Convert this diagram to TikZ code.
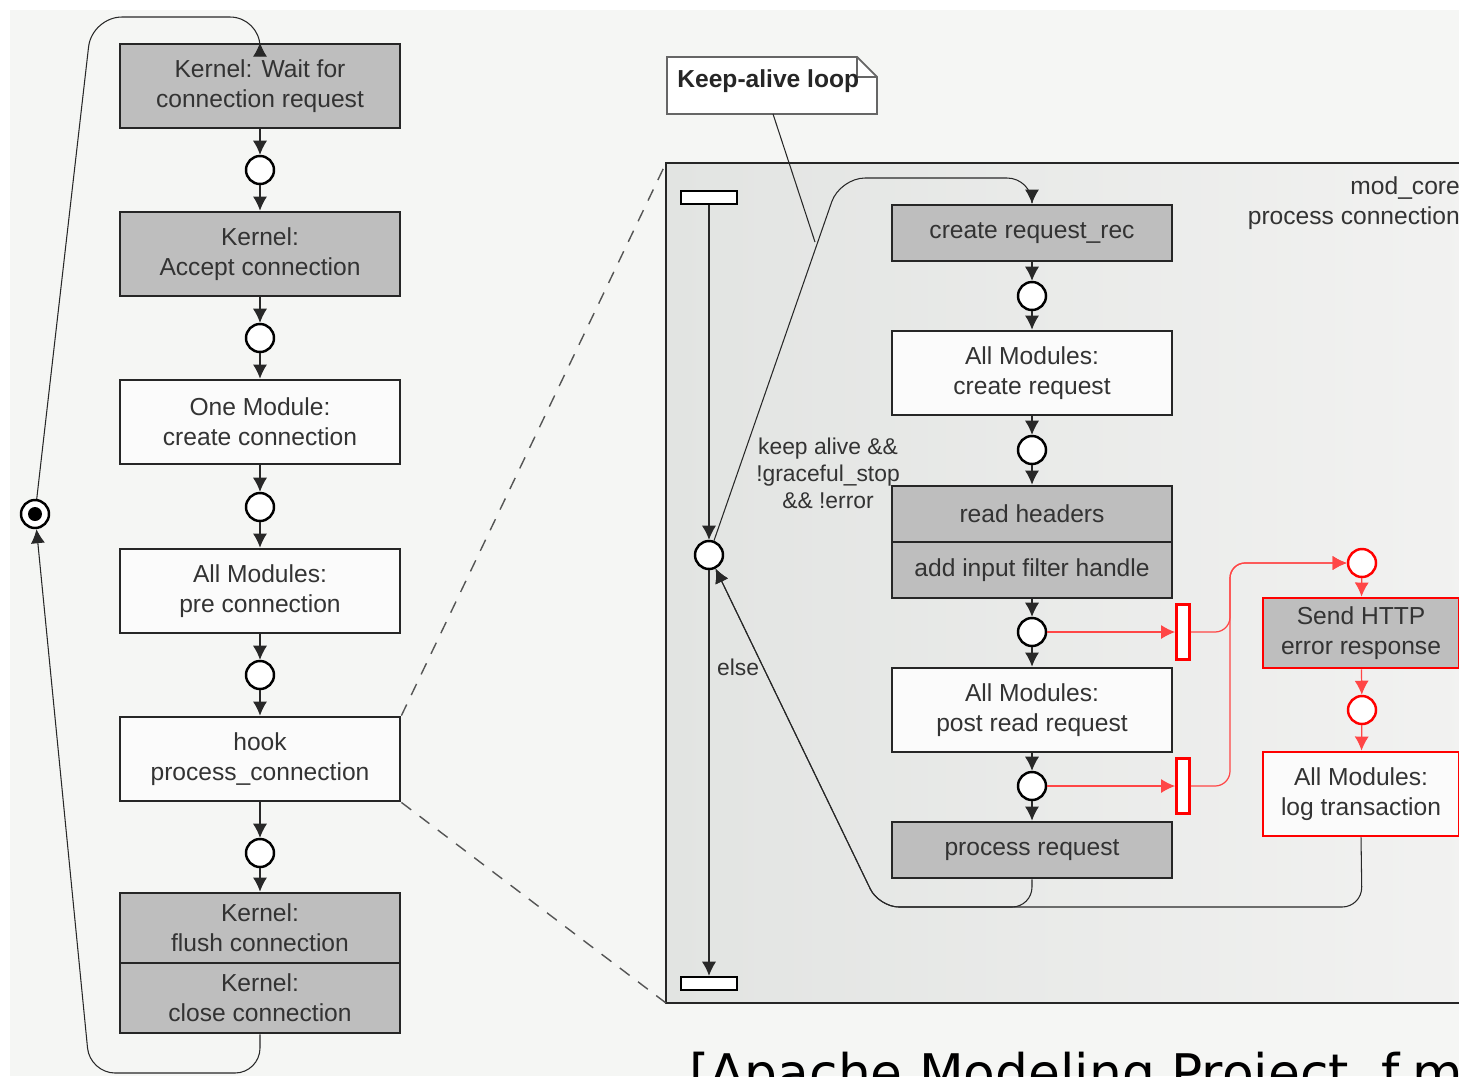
\documentclass[tikz,border=0pt]{standalone}
\usepackage{fontspec}
\setmainfont{Liberation Sans}
\newfontfamily\citefont{DejaVu Sans}
\usetikzlibrary{arrows.meta, calc}
\definecolor{pagebg}{RGB}{245,246,244}
\definecolor{panelleft}{RGB}{226,228,226}
\definecolor{panelright}{RGB}{242,242,241}
\definecolor{boxgray}{RGB}{190,190,190}
\definecolor{boxwhite}{RGB}{251,251,251}
\definecolor{linegray}{RGB}{40,40,40}
\definecolor{errred}{RGB}{255,0,0}
\definecolor{errline}{RGB}{255,70,70}
\definecolor{dashgray}{RGB}{85,85,85}

\begin{document}
\begin{tikzpicture}[x=0.02cm, y=-0.02cm,
  every node/.style={font=\fontsize{14pt}{17pt}\selectfont, text=black!80},
  activity/.style={rectangle, draw=black!85, line width=1.6pt, minimum width=5.6cm, minimum height=1.68cm, align=center, inner sep=0pt},
  graybox/.style={activity, fill=boxgray},
  whitebox/.style={activity, fill=boxwhite},
  state/.style={circle, draw=black, line width=1.4pt, fill=white, minimum size=0.56cm, inner sep=0pt},
  errstate/.style={state, draw=errred},
  initstate/.style={state, path picture={\fill[black] (path picture bounding box.center) circle (0.14cm);}},
  syncbar/.style={rectangle, draw=black, line width=1.4pt, fill=white, minimum width=1.12cm, minimum height=0.26cm, inner sep=0pt},
  errbar/.style={rectangle, draw=errred, line width=1.6pt, fill=white, minimum width=0.26cm, minimum height=1.1cm, inner sep=0pt},
  flow/.style={-{Latex[length=8pt,width=8pt]}, line width=0.6pt, draw=linegray},
  errflow/.style={-{Latex[length=8pt,width=8pt]}, line width=0.7pt, draw=errline},
  zoomline/.style={draw=dashgray, line width=0.8pt, dash pattern=on 7pt off 6pt},
  guard/.style={font=\fontsize{13pt}{15.4pt}\selectfont, align=center}
]
  \useasboundingbox (0,0) rectangle (1459,1076);
  \clip (0,0) rectangle (1459,1076);
  \fill[white] (0,0) rectangle (1459,1076);
  \fill[pagebg] (10,10) rectangle (1459,1076);

  % mod_core panel
  \coordinate (paneltl) at (666,163);
  \coordinate (panelbl) at (666,1003);
  \shade[left color=panelleft, right color=panelright] (paneltl) rectangle (1480,1003);
  \draw[line width=1.4pt, black!85] (paneltl) rectangle (1480,1003);
  \node[align=right, anchor=east] (modcore) at (1466,203) {mod\_core\\process connection};

  % left column: connection handling
  \node[graybox] (wait) at (260,86) {Kernel: Wait for\\connection request};
  \node[state] (s1) at (260,170) {};
  \node[graybox] (accept) at (260,254) {Kernel:\\Accept connection};
  \node[state] (s2) at (260,338) {};
  \node[whitebox] (newconn) at (260,422) {One Module:\\create connection};
  \node[state] (s3) at (260,507) {};
  \node[whitebox] (preconn) at (260,591) {All Modules:\\pre connection};
  \node[state] (s4) at (260,675) {};
  \node[whitebox] (hook) at (260,759) {hook\\process\_connection};
  \node[state] (s5) at (260,853) {};
  \node[graybox, minimum height=1.4cm] (flush) at (260,928) {Kernel:\\flush connection};
  \node[graybox, minimum height=1.4cm] (close) at (260,998) {Kernel:\\close connection};
  \node[initstate] (init) at (35,514) {};

  \draw[flow] (wait) -- (s1);
  \draw[flow] (s1) -- (accept);
  \draw[flow] (accept) -- (s2);
  \draw[flow] (s2) -- (newconn);
  \draw[flow] (newconn) -- (s3);
  \draw[flow] (s3) -- (preconn);
  \draw[flow] (preconn) -- (s4);
  \draw[flow] (s4) -- (hook);
  \draw[flow] (hook) -- (s5);
  \draw[flow] (s5) -- (flush);
  \draw[flow, rounded corners=0.5cm] (close.south) -- (260,1073) -- (90,1073) -- (init);
  \draw[flow, rounded corners=0.6cm] (init) -- (92,17) -- (260,17) [rounded corners=0.24cm] -- (wait.north);

  \draw[zoomline] (hook.north east) -- (paneltl);
  \draw[zoomline] (hook.south east) -- (panelbl);

  % keep-alive loop
  \node[syncbar] (forkbar) at (709,197.5) {};
  \node[syncbar] (joinbar) at (709,983.5) {};
  \node[state] (dec) at (709,555) {};

  \node[graybox, minimum height=1.12cm] (createrec) at (1032,233) {create request\_rec};
  \node[state] (s6) at (1032,296) {};
  \node[whitebox] (newreq) at (1032,373) {All Modules:\\create request};
  \node[state] (s7) at (1032,450) {};
  \node[graybox, minimum height=1.12cm] (readhdr) at (1032,514) {read headers};
  \node[graybox, minimum height=1.12cm] (addfilter) at (1032,570) {add input filter handle};
  \node[state] (s8) at (1032,632) {};
  \node[whitebox] (postread) at (1032,710) {All Modules:\\post read request};
  \node[state] (s9) at (1032,786) {};
  \node[graybox, minimum height=1.12cm] (procreq) at (1032,850) {process request};

  \node[errbar] (errbar1) at (1183,632) {};
  \node[errbar] (errbar2) at (1183,786) {};
  \node[errstate] (errc1) at (1362,563) {};
  \node[graybox, draw=errred, minimum width=3.92cm, minimum height=1.4cm] (sendhttp) at (1361,633) {Send HTTP\\error response};
  \node[errstate] (errc2) at (1362,710) {};
  \node[whitebox, draw=errred, minimum width=3.92cm] (logtx) at (1361,794) {All Modules:\\log transaction};

  \draw[flow] (forkbar) -- (dec);
  \draw[flow] (dec) -- (joinbar) node[pos=0.24, right=1pt, guard] {else};
  \draw[flow, rounded corners=0.5cm] (dec) -- (840,178) -- (1032,178) [rounded corners=0.24cm] -- (createrec.north);
  \node[guard] (alive) at (828,473) {keep alive \&\&\\!graceful\_stop\\\&\& !error};

  \draw[flow] (createrec) -- (s6);
  \draw[flow] (s6) -- (newreq);
  \draw[flow] (newreq) -- (s7);
  \draw[flow] (s7) -- (readhdr);
  \draw[flow] (addfilter) -- (s8);
  \draw[flow] (s8) -- (postread);
  \draw[flow] (postread) -- (s9);
  \draw[flow] (s9) -- (procreq);
  \draw[flow, rounded corners=0.4cm] (procreq.south) -- (1032,907) -- (879,907) -- (dec);
  \draw[flow, rounded corners=0.4cm] (logtx.south) -- (1362,907) -- (879,907) -- (dec);

  \draw[errflow] (s8) -- (errbar1);
  \draw[errflow] (s9) -- (errbar2);
  \draw[errflow, rounded corners=0.3cm] (errbar1.east) -- (1230,632) -- (1230,563) -- (errc1);
  \draw[errflow, rounded corners=0.3cm] (errbar2.east) -- (1230,786) -- (1230,563) -- (errc1);
  \draw[errflow] (errc1) -- (sendhttp);
  \draw[errflow] (sendhttp) -- (errc2);
  \draw[errflow] (errc2) -- (logtx);

  % note
  \coordinate (notesw) at (667,114);
  \coordinate (notene) at (877,57);
  \draw[draw=black!60, line width=1pt, fill=white] (notesw) -- (667,57) -- (857,57) -- (877,77) -- (877,114) -- cycle;
  \draw[draw=black!60, line width=1pt] (857,57) |- (877,77);
  \node[anchor=west, inner sep=0pt, font=\fontsize{14pt}{17pt}\selectfont\bfseries, text=black!85] (note) at (677,81) {Keep-alive loop};
  \coordinate (notefoot) at (773,114);
  \coordinate (notetip) at (815,242);
  \draw[line width=0.6pt, draw=linegray] (notefoot) -- (notetip);

  \node[anchor=base west, font=\citefont\fontsize{29.5pt}{34pt}\selectfont, text=black] (cite) at (683,1091) {[Apache Modeling Project, f.m};
\end{tikzpicture}
\end{document}
